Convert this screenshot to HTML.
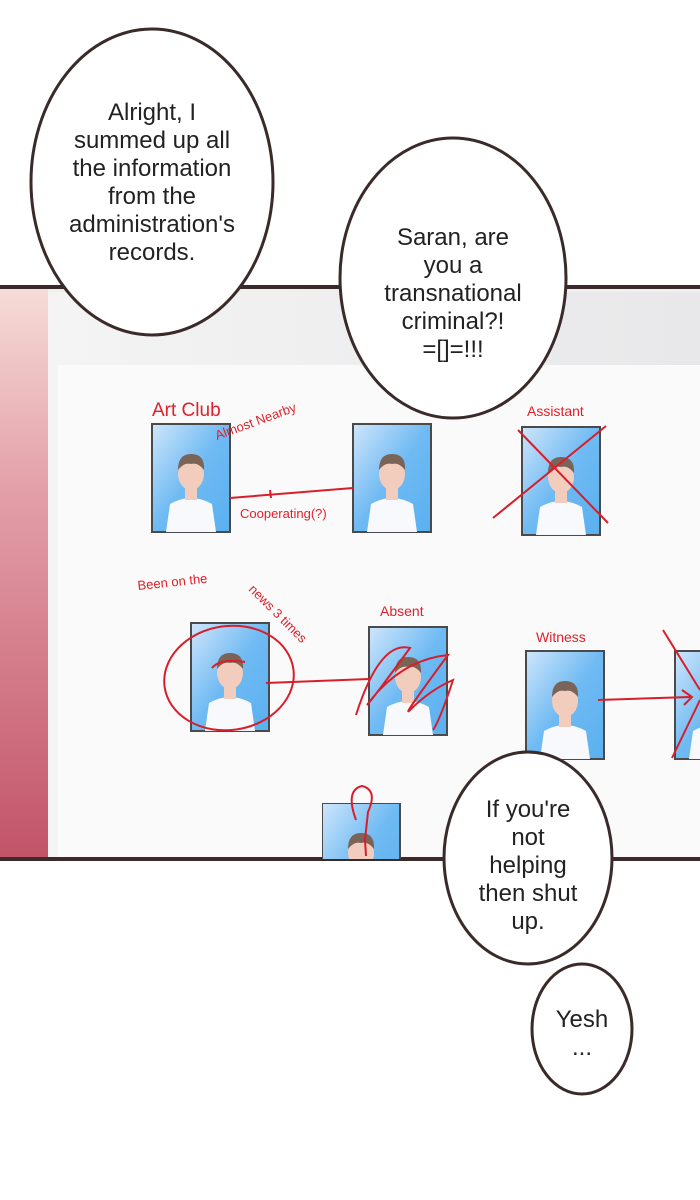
<!DOCTYPE html>
<html><head><meta charset="utf-8"><style>
html,body{margin:0;padding:0;background:#fff;}
svg{display:block}
.b{font-family:"Comic Sans MS","Liberation Sans",sans-serif;fill:#222;font-size:24px;text-anchor:middle}
.r{font-family:"Liberation Sans",sans-serif;fill:#e0202a}
</style></head><body>
<svg width="700" height="1200" viewBox="0 0 700 1200" xmlns="http://www.w3.org/2000/svg">
<defs>
<linearGradient id="lg" x1="0" y1="0" x2="0" y2="1">
<stop offset="0" stop-color="#f6dcd8"/><stop offset="0.35" stop-color="#e3a0a8"/><stop offset="1" stop-color="#c25468"/>
</linearGradient>
<linearGradient id="bg" x1="0" y1="0" x2="1" y2="0">
<stop offset="0" stop-color="#f4f4f4"/><stop offset="1" stop-color="#e8e8ea"/>
</linearGradient>
<linearGradient id="ph" x1="0" y1="0" x2="1" y2="1">
<stop offset="0" stop-color="#cfe6fb"/><stop offset="0.5" stop-color="#6fbaf3"/><stop offset="1" stop-color="#5ab0f0"/>
</linearGradient>
<g id="p">
<rect x="0" y="0" width="78" height="108" fill="url(#ph)" stroke="#4a4a4a" stroke-width="2"/>
<path d="M14 108 L18 80 Q39 68 60 80 L64 108 Z" fill="#f7f9fc"/>
<rect x="33" y="60" width="12" height="16" fill="#f2cdbd"/>
<ellipse cx="39" cy="50" rx="13" ry="16" fill="#f2cdbd"/>
<path d="M26 46 Q26 30 39 30 Q53 30 52 46 Q46 38 39 40 Q32 38 26 46Z" fill="#7a6458"/>
</g>
</defs>
<rect x="0" y="287" width="700" height="572" fill="#f0eeee"/>
<rect x="0" y="287" width="48" height="572" fill="url(#lg)"/>
<rect x="48" y="292" width="652" height="567" fill="url(#bg)"/>
<rect x="58" y="365" width="642" height="494" fill="#fafafa"/>
<line x1="0" y1="287" x2="700" y2="287" stroke="#3a2a2a" stroke-width="4"/>
<line x1="0" y1="859" x2="700" y2="859" stroke="#3a2a2a" stroke-width="4"/>

<use href="#p" x="152" y="424"/>
<use href="#p" x="353" y="424"/>
<use href="#p" x="522" y="427"/>
<use href="#p" x="191" y="623"/>
<use href="#p" x="369" y="627"/>
<use href="#p" x="526" y="651"/>
<use href="#p" x="675" y="651"/>
<svg x="322" y="803" width="79" height="56"><use href="#p" x="0" y="0"/></svg>

<g fill="none" stroke="#d81e2a" stroke-width="2">
<path d="M230 498 L353 488"/><path d="M270 490 L271 498"/>
<path d="M518 430 L608 523 M606 426 L493 518"/>
<ellipse cx="229" cy="678" rx="65" ry="52" transform="rotate(-8 229 678)"/>
<path d="M212 668 Q220 658 245 662"/>
<path d="M266 683 L369 679"/>
<path d="M356 715 Q380 640 410 648 Q372 700 367 705 Q400 660 448 655 Q400 720 410 710 Q430 690 453 680 Q440 720 433 730"/>
<path d="M598 700 L690 697 M682 690 L692 697 L684 705"/>
<path d="M663 630 L700 690 M672 758 L700 700"/>
<path d="M356 820 Q345 790 362 786 Q378 790 368 812 L365 840 L366 856"/>
</g>
<text class="r" x="152" y="416" style="font-size:19px">Art Club</text>
<text class="r" x="217" y="440" style="font-size:13px" transform="rotate(-20 217 440)">Almost Nearby</text>
<text class="r" x="240" y="518" style="font-size:13px">Cooperating(?)</text>
<text class="r" x="527" y="416" style="font-size:14px">Assistant</text>
<text class="r" x="138" y="590" style="font-size:13px" transform="rotate(-6 138 590)">Been on the</text>
<text class="r" x="248" y="590" style="font-size:13px" transform="rotate(45 248 590)">news 3 times</text>
<text class="r" x="380" y="616" style="font-size:14px">Absent</text>
<text class="r" x="536" y="642" style="font-size:14px">Witness</text>

<ellipse cx="152" cy="182" rx="121" ry="153" fill="#fff" stroke="#3a2a2a" stroke-width="3"/>
<text class="b" x="152" y="120">Alright, I</text>
<text class="b" x="152" y="148">summed up all</text>
<text class="b" x="152" y="176">the information</text>
<text class="b" x="152" y="204">from the</text>
<text class="b" x="152" y="232">administration's</text>
<text class="b" x="152" y="260">records.</text>

<ellipse cx="453" cy="278" rx="113" ry="140" fill="#fff" stroke="#3a2a2a" stroke-width="3"/>
<text class="b" x="453" y="245">Saran, are</text>
<text class="b" x="453" y="273">you a</text>
<text class="b" x="453" y="301">transnational</text>
<text class="b" x="453" y="329">criminal?!</text>
<text class="b" x="453" y="357">=[]=!!!</text>

<ellipse cx="528" cy="858" rx="84" ry="106" fill="#fff" stroke="#3a2a2a" stroke-width="3"/>
<text class="b" x="528" y="817">If you're</text>
<text class="b" x="528" y="845">not</text>
<text class="b" x="528" y="873">helping</text>
<text class="b" x="528" y="901">then shut</text>
<text class="b" x="528" y="929">up.</text>

<ellipse cx="582" cy="1029" rx="50" ry="65" fill="#fff" stroke="#3a2a2a" stroke-width="3"/>
<text class="b" x="582" y="1027">Yesh</text>
<text class="b" x="582" y="1055">...</text>
</svg>
</body></html>
